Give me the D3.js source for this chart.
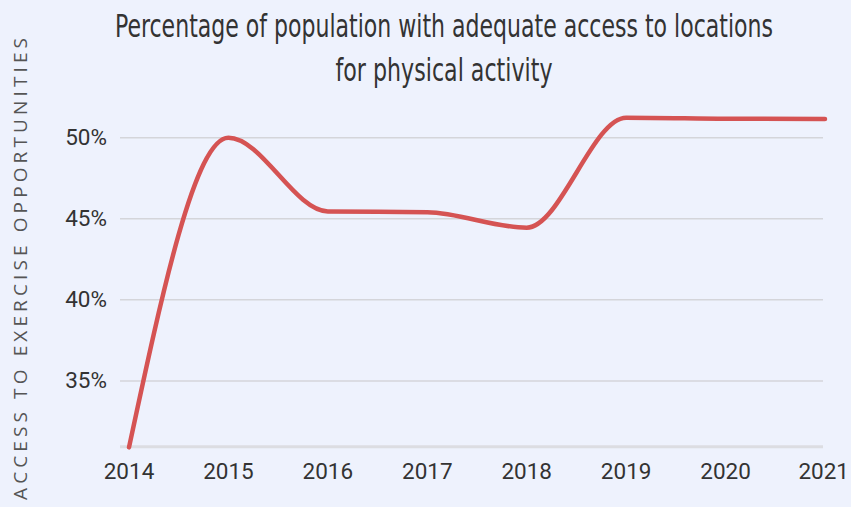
<!DOCTYPE html>
<html>
<head>
<meta charset="utf-8">
<script src="https://cdn.jsdelivr.net/npm/d3@7"></script>
<style>
  body { margin: 0; background: #eef2fd; }
  svg { display: block; }
</style>
</head>
<body>
<div id="chart"></div>
<script>
// data
const years = [2014, 2015, 2016, 2017, 2018, 2019, 2020, 2021];
const access = [30.9, 50.0, 45.45, 45.4, 44.45, 51.23, 51.17, 51.15];
const yTicks = [35, 40, 45, 50];
const titleLines = ["Percentage of population with adequate access to locations", "for physical activity"];
const yLabel = "ACCESS TO EXERCISE OPPORTUNITIES";

const width = 851, height = 507;
const margin = {left: 129, right: 26};

const svg = d3.select("#chart")
    .append("svg")
    .attr("width", width)
    .attr("height", height);

svg.append("rect")
    .attr("width", width)
    .attr("height", height)
    .attr("fill", "#eef2fd");

const x = d3.scaleLinear()
    .domain([2014, 2021])
    .range([margin.left, width - margin.right]);

const y = d3.scaleLinear()
    .domain([30.94, 50])
    .range([446.7, 137.7]);

const base = y.domain()[0];

// gridlines
svg.append("g")
    .selectAll("line")
    .data(yTicks.concat([base]))
    .join("line")
    .attr("x1", 120)
    .attr("x2", 823)
    .attr("y1", d => y(d))
    .attr("y2", d => y(d))
    .attr("stroke", d => d === base ? "#dcdde2" : "#d4d5da")
    .attr("stroke-width", d => d === base ? 3 : 1.5);

// y axis labels
svg.append("g")
    .selectAll("text")
    .data(yTicks)
    .join("text")
    .attr("x", 107)
    .attr("y", d => y(d) + 7)
    .attr("text-anchor", "end")
    .attr("font-family", "Roboto, 'Liberation Sans', Arial, sans-serif")
    .attr("font-size", 22.5)
    .attr("fill", "#333")
    .text(d => d + "%");

// x axis labels
svg.append("g")
    .selectAll("text")
    .data(years)
    .join("text")
    .attr("x", d => d === 2021 ? width - 2 : x(d))
    .attr("y", 479)
    .attr("text-anchor", d => d === 2021 ? "end" : "middle")
    .attr("font-family", "Roboto, 'Liberation Sans', Arial, sans-serif")
    .attr("font-size", 22.5)
    .attr("fill", "#333")
    .text(d => d);

// line
const line = d3.line()
    .x((d, i) => x(years[i]))
    .y(d => y(d))
    .curve(d3.curveMonotoneX);

svg.append("path")
    .datum(access)
    .attr("d", line)
    .attr("fill", "none")
    .attr("stroke", "#d55353")
    .attr("stroke-width", 4.5)
    .attr("stroke-linecap", "round");

// title: condensed look, squeezed horizontally and stretched vertically
svg.append("g")
    .selectAll("text")
    .data(titleLines)
    .join("text")
    .attr("transform", (d, i) => `translate(444,${37 + i * 44}) scale(1,1.45)`)
    .attr("text-anchor", "middle")
    .attr("font-family", "'DejaVu Sans Condensed', 'Liberation Sans Narrow', sans-serif")
    .attr("font-stretch", "condensed")
    .attr("font-size", 22.5)
    .attr("fill", "#333")
    .attr("textLength", (d, i) => i === 0 ? 658 : 217)
    .attr("lengthAdjust", "spacingAndGlyphs")
    .text(d => d);

// y axis title
svg.append("text")
    .attr("transform", "translate(27,38) rotate(-90)")
    .attr("text-anchor", "end")
    .attr("font-family", "'Open Sans', 'DejaVu Sans', sans-serif")
    .attr("font-size", 19)
    .attr("textLength", 462)
    .attr("lengthAdjust", "spacing")
    .attr("fill", "#555")
    .text(yLabel);
</script>
</body>
</html>
